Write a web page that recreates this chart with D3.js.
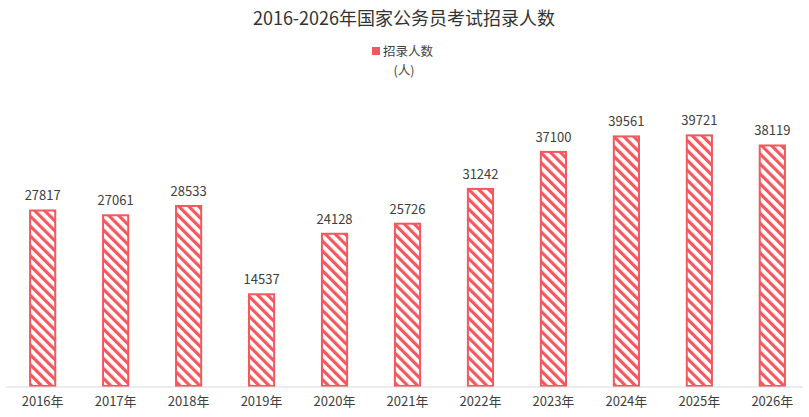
<!DOCTYPE html>
<html><head><meta charset="utf-8">
<script src="https://cdn.jsdelivr.net/npm/d3@7"></script>
<style>body{margin:0;background:#fff;font-family:"Noto Sans CJK SC","Noto Sans",sans-serif}</style>
</head><body><svg id="c" width="809" height="417"></svg>
<script>
const categories=["2016年","2017年","2018年","2019年","2020年","2021年","2022年","2023年","2024年","2025年","2026年"];
const values=[27817,27061,28533,14537,24128,25726,31242,37100,39561,39721,38119];
const seriesName="招录人数";
const unitLabel="(人)";
const title="2016-2026年国家公务员考试招录人数";
const svg=d3.select("#c");
const red="#f4585f";
const defs=svg.append("defs");
const p=defs.append("pattern").attr("id","hatch").attr("patternUnits","userSpaceOnUse").attr("width",7).attr("height",7).attr("patternTransform","rotate(-45)");
p.append("rect").attr("width",7).attr("height",7).attr("fill","#fff");
p.append("rect").attr("width",3.2).attr("height",7).attr("fill",red);
const x=d3.scaleBand().domain(categories).range([6,809]).paddingInner(0.655).paddingOuter(0.33);
const y=d3.scaleLinear().domain([0,48500]).range([386,80]);
svg.append("text").attr("x",404).attr("y",25).attr("text-anchor","middle").attr("font-size",18).attr("fill","#333").text(title);
svg.append("rect").attr("x",372).attr("y",47).attr("width",8).attr("height",8).attr("fill",red);
svg.append("text").attr("x",383).attr("y",56).attr("font-size",12.5).attr("fill","#444").text(seriesName);
svg.append("text").attr("x",404).attr("y",75).attr("text-anchor","middle").attr("font-size",12.5).attr("fill","#444").text(unitLabel);
svg.selectAll(".bar").data(values).join("rect").attr("x",(d,i)=>x(categories[i])).attr("width",x.bandwidth())
 .attr("y",d=>y(d)).attr("height",d=>y(0)-y(d)).attr("fill","url(#hatch)").attr("stroke",red).attr("stroke-width",2);
svg.selectAll(".lab").data(values).join("text").attr("x",(d,i)=>x(categories[i])+x.bandwidth()/2).attr("y",d=>y(d)-10)
 .attr("text-anchor","middle").attr("font-size",13).attr("fill","#404040").text(d=>d);
const ax=svg.append("g").attr("transform","translate(0,387)").call(d3.axisBottom(x).tickSize(0).tickPadding(10));
ax.select(".domain").attr("stroke","#d9d9d9").attr("d","M6,0H803");
ax.selectAll("text").attr("font-size",13).attr("fill","#404040").attr("font-family","Noto Sans CJK SC");
</script></body></html>
